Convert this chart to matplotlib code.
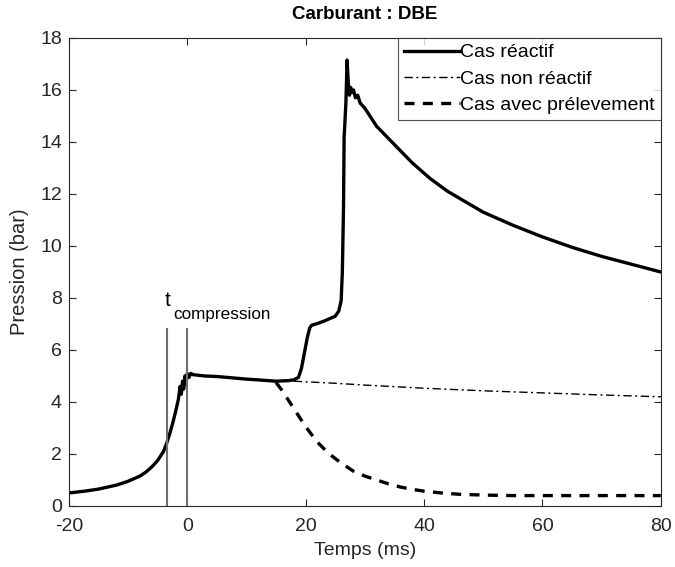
import matplotlib
matplotlib.use("Agg")
import matplotlib.pyplot as plt

plt.rcParams['font.family'] = ['Liberation Sans', 'DejaVu Sans']
plt.rcParams['axes.unicode_minus'] = False

# Reactive case
t_react = [-20, -17, -15, -12, -10, -8, -7, -6, -5, -4, -3.5, -3, -2.5, -2, -1.5, -1.2, -1.0, -0.8, -0.6, -0.4, -0.2, 0, 0.3, 0.6, 1, 3, 5, 8, 10, 12, 15, 17, 18, 18.8, 19.3, 19.8, 20.3, 20.7, 21.0, 22, 23, 24, 25, 25.6, 26.0, 26.2, 26.4, 26.5, 26.6, 26.8, 27.0, 27.2, 27.4, 27.6, 27.8, 28.1, 28.4, 28.8, 29.2, 30, 32, 35, 38, 41, 44, 47, 50, 55, 60, 65, 70, 75, 80]
p_react = [0.5, 0.58, 0.65, 0.8, 0.95, 1.15, 1.3, 1.5, 1.75, 2.1, 2.4, 2.75, 3.15, 3.6, 4.1, 4.6, 4.3, 4.8, 4.5, 5.0, 4.7, 5.1, 4.95, 5.1, 5.05, 5.0, 4.98, 4.92, 4.88, 4.85, 4.8, 4.82, 4.85, 4.95, 5.3, 5.9, 6.5, 6.85, 6.95, 7.02, 7.1, 7.2, 7.3, 7.5, 7.9, 9.0, 11.5, 14.2, 14.6, 15.5, 17.15, 16.3, 15.8, 16.1, 15.9, 16.0, 15.7, 15.8, 15.5, 15.3, 14.6, 13.9, 13.2, 12.6, 12.1, 11.7, 11.3, 10.8, 10.35, 9.95, 9.6, 9.3, 9.0]

# Non-reactive case
t_nonreact = [18, 25, 30, 40, 50, 60, 70, 80]
p_nonreact = [4.8, 4.72, 4.65, 4.53, 4.43, 4.35, 4.27, 4.2]

# Sampling case
t_sample = [15, 16, 17, 18, 19, 20, 21, 22, 24, 26, 28, 30, 32, 34, 36, 38, 40, 43, 46, 50, 55, 60, 70, 80]
p_sample = [4.75, 4.45, 4.1, 3.75, 3.4, 3.05, 2.75, 2.45, 2.0, 1.65, 1.35, 1.15, 1.0, 0.85, 0.73, 0.64, 0.57, 0.5, 0.45, 0.42, 0.4, 0.4, 0.4, 0.4]

t_markers = [-3.5, 0]
marker_top = 6.8

fig = plt.figure(figsize=(6.75, 5.67), dpi=100)
ax = fig.add_axes([0.102, 0.1076, 0.877, 0.8254])

ax.plot(t_react, p_react, color='black', lw=2.4, label='Cas réactif')
ax.plot(t_nonreact, p_nonreact, color='black', lw=1.0, linestyle=(0, (6, 2.5, 1.5, 2.5)), label='Cas non réactif')
ax.plot(t_sample, p_sample, color='black', lw=2.4, linestyle=(0, (3, 2.5)), label='Cas avec prélevement')

for tm in t_markers:
    ax.plot([tm, tm], [0, marker_top], color='#707070', lw=1.5)
ax.text(-3.75, 7.7, 't', fontsize=15, color='black', ha='left', va='baseline')
ax.text(-2.4, 7.2, 'compression', fontsize=12.3, color='black', ha='left', va='baseline')

ax.set_xlim(-20, 80)
ax.set_ylim(0, 18)
ax.set_xticks([-20, 0, 20, 40, 60, 80])
ax.set_yticks(list(range(0, 19, 2)))
ax.tick_params(direction='in', labelsize=14, colors='#262626', length=5, top=True, right=True, labeltop=False, labelright=False)
ax.tick_params(axis='x', pad=9)
ax.tick_params(axis='y', pad=5)
for s in ax.spines.values():
    s.set_color('#262626')
ax.set_xlabel('Temps (ms)', fontsize=14, color='#262626', labelpad=5)
ax.set_ylabel('Pression (bar)', fontsize=14.5, color='#262626', labelpad=8)
ax.set_title('Carburant : DBE', fontsize=13.5, fontweight='bold', pad=14)

leg = ax.legend(loc='upper right', fontsize=14, frameon=True, fancybox=False, borderaxespad=0,
                handlelength=2.9, handletextpad=0.0, borderpad=0.3, labelspacing=0.45)
leg.get_frame().set_edgecolor('#262626')
leg.get_frame().set_linewidth(0.8)

fig.savefig('out.png', dpi=100)
